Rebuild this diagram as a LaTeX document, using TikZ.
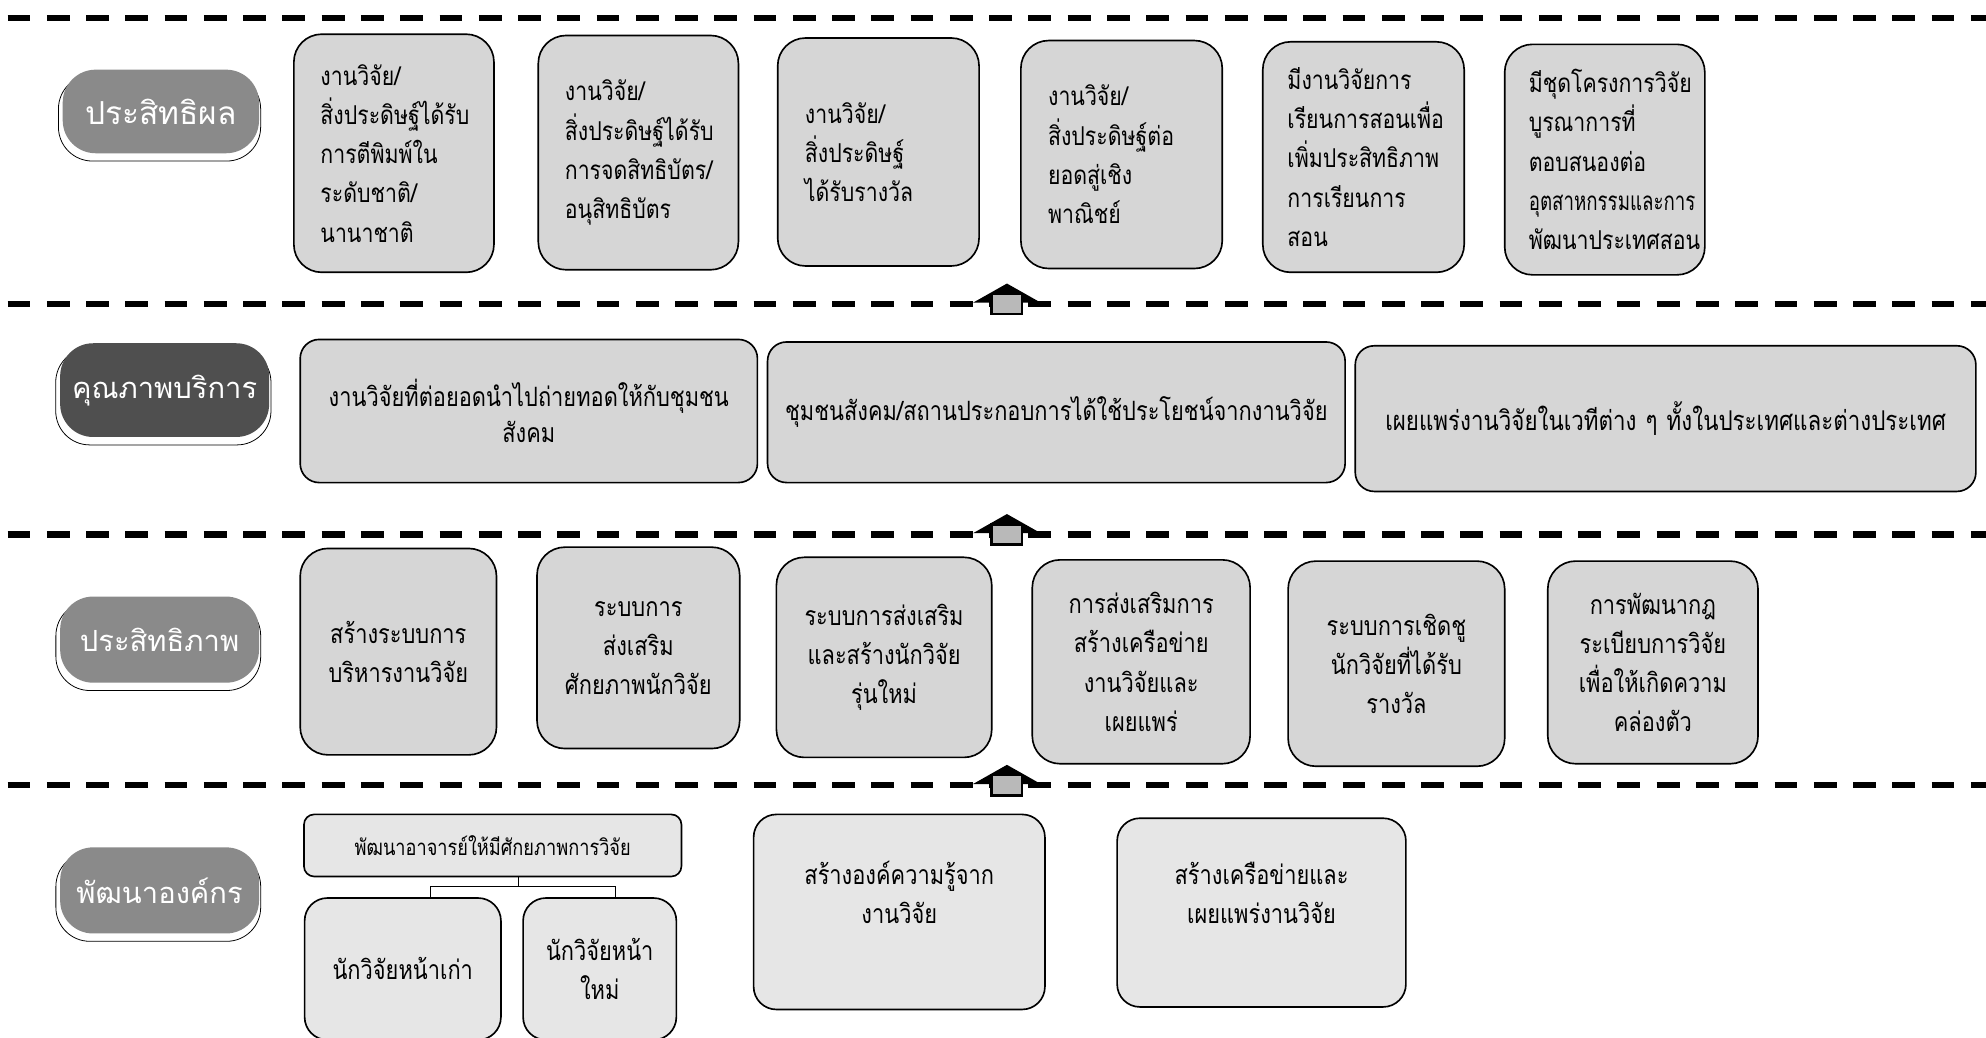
\documentclass[tikz,border=0pt]{standalone}
\usepackage{fontspec}
\setmainfont{Loma}[Script=Thai,FakeStretch=0.82]
\newfontfamily\labelfont{Loma}[Script=Thai]
\newfontfamily\narrowfont{Loma}[Script=Thai,FakeStretch=0.72]
\usetikzlibrary{shadows}
\definecolor{boxgray}{HTML}{D6D6D6}
\definecolor{boxlight}{HTML}{E6E6E6}
\definecolor{labgray}{HTML}{8A8A8A}
\definecolor{labdark}{HTML}{4F4F4F}
\tikzset{
  sepline/.style={line width=5pt, dash pattern=on 18pt off 13pt, black},
  box/.style={draw, line width=1.3pt, fill=boxgray, rounded corners=22pt, inner sep=0pt,
    font=\fontsize{21}{31}\selectfont},
  lbox/.style={box, align=left, font=\fontsize{20.5}{31}\selectfont},
  cbox/.style={box, align=center},
  wbox/.style={cbox, rounded corners=15pt, font=\fontsize{21}{28}\selectfont},
  lab/.style={fill=labgray, rounded corners=26pt, text=white, inner sep=0pt,
    font=\labelfont\fontsize{23}{28}\selectfont,
    general shadow={shadow xshift=-1pt, shadow yshift=-5pt, shadow scale=1.03,
      fill=white, draw=black, line width=0.6pt}},
  roof/.style={fill=black, draw=black, line width=2pt, line join=miter},
  hbody/.style={fill=gray!55, draw=black, line width=2pt},
  conn/.style={draw, line width=0.8pt}
}
\begin{document}
\begin{tikzpicture}[x=1pt,y=-1pt]
\useasboundingbox (0,0) rectangle (1568,819);
% separator lines
\draw[sepline] (6,14) -- (1568,14);
\draw[sepline] (6,240) -- (1568,240);
\draw[sepline] (6,422) -- (1568,422);
\draw[sepline] (6,620) -- (1568,620);
% row 1
\node[lab, minimum width=155pt, minimum height=66pt, font=\labelfont\fontsize{25}{28}\selectfont] (l1) at (127,88) {ประสิทธิผล};
\node[lbox, minimum width=158pt, minimum height=188pt, text width=116pt] (a1) at (311,121)
  {งานวิจัย/\\สิ่งประดิษฐ์ได้รับ\\การตีพิมพ์ใน\\ระดับชาติ/\\นานาชาติ};
\node[lbox, minimum width=158pt, minimum height=185pt, text width=116pt] (a2) at (504,120.5)
  {งานวิจัย/\\สิ่งประดิษฐ์ได้รับ\\การจดสิทธิบัตร/\\อนุสิทธิบัตร};
\node[lbox, minimum width=159pt, minimum height=180pt, text width=116pt] (a3) at (693.5,120)
  {งานวิจัย/\\สิ่งประดิษฐ์\\ได้รับรางวัล};
\node[lbox, minimum width=159pt, minimum height=180pt, text width=116pt] (a4) at (885.5,122)
  {งานวิจัย/\\สิ่งประดิษฐ์ต่อ\\ยอดสู่เชิง\\พาณิชย์};
\node[lbox, minimum width=159pt, minimum height=182pt, text width=120pt] (a5) at (1076.5,124)
  {มีงานวิจัยการ\\เรียนการสอนเพื่อ\\เพิ่มประสิทธิภาพ\\การเรียนการ\\สอน};
\node[lbox, minimum width=158pt, minimum height=182pt, text width=120pt] (a6) at (1267,126)
  {มีชุดโครงการวิจัย\\บูรณาการที่\\ตอบสนองต่อ\\{\narrowfont อุตสาหกรรมและการ}\\พัฒนาประเทศสอน};
% row 2
\node[lab, fill=labdark, minimum width=165pt, minimum height=74pt] (l2) at (130,308) {คุณภาพบริการ};
\node[wbox, minimum width=361pt, minimum height=113pt, text width=345pt] (b1) at (417.5,324.5)
  {งานวิจัยที่ต่อยอดนำไปถ่ายทอดให้กับชุมชน\\สังคม};
\node[wbox, minimum width=456pt, minimum height=111pt, text width=440pt] (b2) at (834,325.5)
  {ชุมชนสังคม/สถานประกอบการได้ใช้ประโยชน์จากงานวิจัย};
\node[wbox, minimum width=490pt, minimum height=115pt, text width=475pt, font=\fontsize{21.5}{28}\selectfont] (b3) at (1315,330.5)
  {เผยแพร่งานวิจัยในเวทีต่าง ๆ ทั้งในประเทศและต่างประเทศ};
% row 3
\node[lab, minimum width=157pt, minimum height=68pt] (l3) at (126,505) {ประสิทธิภาพ};
\node[cbox, minimum width=155pt, minimum height=163pt, text width=145pt] (c1) at (314.5,514.5)
  {สร้างระบบการ\\บริหารงานวิจัย};
\node[cbox, minimum width=160pt, minimum height=159pt, text width=145pt] (c2) at (504,511.5)
  {ระบบการ\\ส่งเสริม\\ศักยภาพนักวิจัย};
\node[cbox, minimum width=170pt, minimum height=158pt, text width=155pt] (c3) at (698,519)
  {ระบบการส่งเสริม\\และสร้างนักวิจัย\\รุ่นใหม่};
\node[cbox, minimum width=172pt, minimum height=161pt, text width=155pt] (c4) at (901,522.5)
  {การส่งเสริมการ\\สร้างเครือข่าย\\งานวิจัยและ\\เผยแพร่};
\node[cbox, minimum width=171pt, minimum height=162pt, text width=155pt] (c5) at (1102.5,524)
  {ระบบการเชิดชู\\นักวิจัยที่ได้รับ\\รางวัล};
\node[cbox, minimum width=166pt, minimum height=160pt, text width=155pt] (c6) at (1305,523)
  {การพัฒนากฎ\\ระเบียบการวิจัย\\เพื่อให้เกิดความ\\คล่องตัว};
% row 4
\node[lab, minimum width=157pt, minimum height=68pt] (l4) at (126,703) {พัฒนาองค์กร};
\node[cbox, fill=boxlight, rounded corners=8pt, minimum width=298pt, minimum height=49pt, text width=285pt, font=\fontsize{17.5}{20}\selectfont] (d0) at (389,667.5)
  {พัฒนาอาจารย์ให้มีศักยภาพการวิจัย};
\node[cbox, fill=boxlight, rounded corners=18pt, minimum width=155pt, minimum height=112pt, text width=140pt] (d1) at (318,765)
  {นักวิจัยหน้าเก่า};
\node[cbox, fill=boxlight, rounded corners=18pt, minimum width=121pt, minimum height=112pt, text width=112pt] (d2) at (473.5,765)
  {นักวิจัยหน้า\\ใหม่};
\node[cbox, fill=boxlight, rounded corners=18pt, minimum width=230pt, minimum height=154pt, text width=215pt] (d3) at (710,720)
  {สร้างองค์ความรู้จาก\\งานวิจัย\\\mbox{}};
\node[cbox, fill=boxlight, rounded corners=18pt, minimum width=228pt, minimum height=149pt, text width=215pt] (d4) at (996,720.5)
  {สร้างเครือข่ายและ\\เผยแพร่งานวิจัย\\\mbox{}};
\coordinate (j) at (409,700);
\coordinate (ja) at (340,700);
\coordinate (jb) at (486,700);
\draw[conn] (j |- d0.south) -- (j);
\draw[conn] (ja |- d1.north) -- (ja) -- (jb) -- (jb |- d2.north);
% upward house arrows
\coordinate (h2) at (795,240);
\coordinate (h3) at (795,422);
\coordinate (h4) at (795,620);
\foreach \h in {h2,h3,h4}{
  \draw[roof] (\h) ++(0,-15) -- ++(23,13) -- ++(-46,0) -- cycle;
  \draw[hbody] (\h) ++(-12,-8) rectangle ++(24,16);
}
\end{tikzpicture}
\end{document}
